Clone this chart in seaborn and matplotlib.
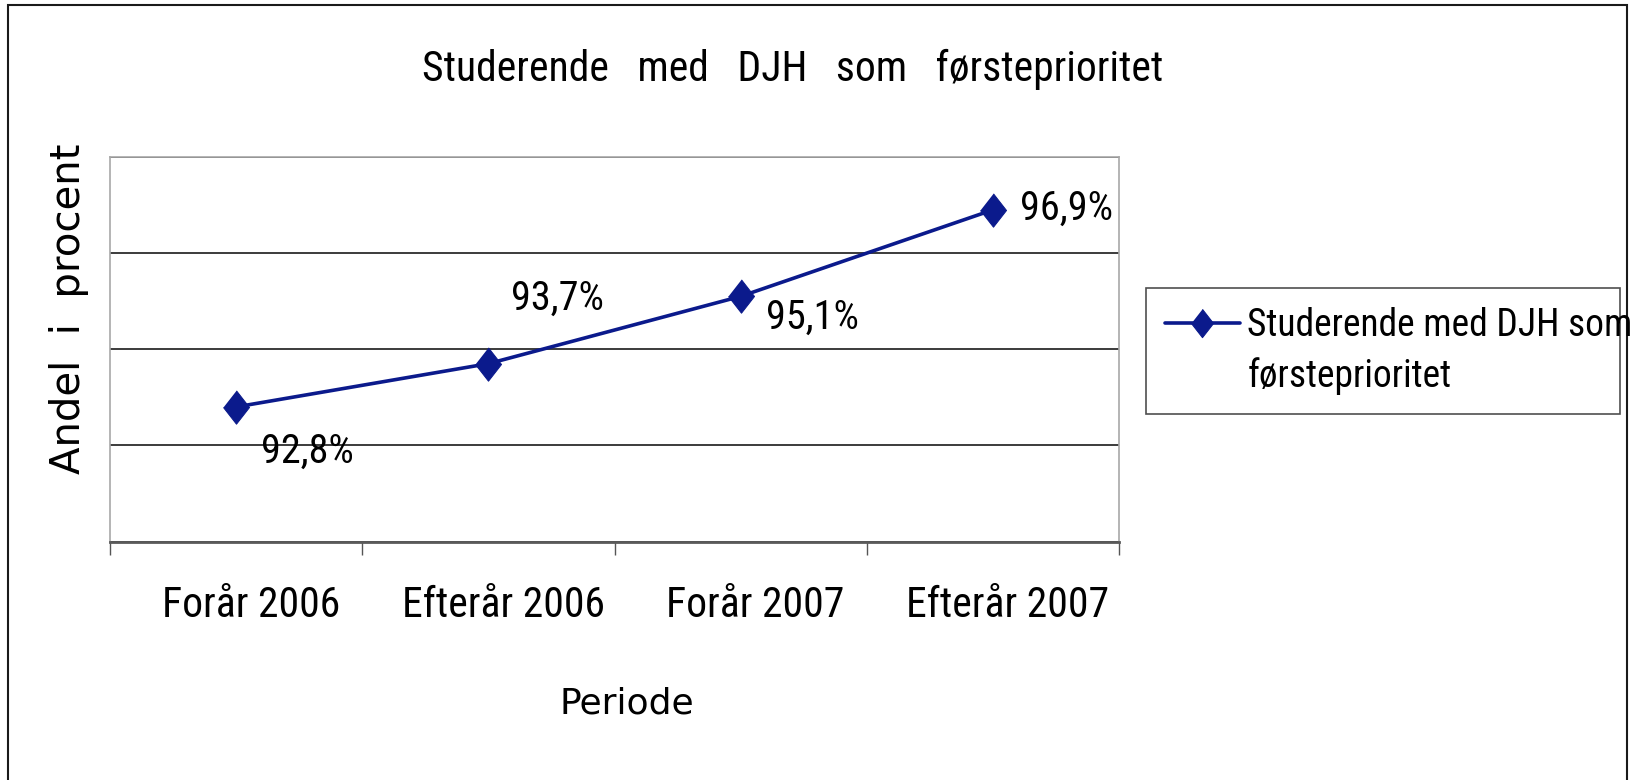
import numpy as np
import pandas as pd
import matplotlib
matplotlib.use("Agg")
import matplotlib.pyplot as plt
import matplotlib.transforms as mtrans
from matplotlib.patches import Rectangle
from matplotlib.lines import Line2D
import seaborn as sns

# data
perioder = ["Forår 2006", "Efterår 2006", "Forår 2007", "Efterår 2007"]
andel = [92.8, 93.7, 95.1, 96.9]
andel_tekst = ["92,8%", "93,7%", "95,1%", "96,9%"]
serie_navn = ["Studerende med DJH som", "førsteprioritet"]

# label offsets from each point (points)
label_offsets = [(51, -32), (50, 47), (52, -15), (53, 1)]

sns.set_style("white")
plt.rcParams['font.family'] = ['Roboto Condensed', 'Liberation Sans', 'DejaVu Sans']
plt.rcParams['text.color'] = 'black'

blue = "#0b1a8c"
W, H = 1637, 780

fig = plt.figure(figsize=(W / 100, H / 100), dpi=100)
ax = fig.add_axes([110 / W, 1 - 541.5 / H, 1009 / W, 384.5 / H])

df = pd.DataFrame({"pos": np.arange(len(perioder)), "andel": andel})
diamond = [(0, 1), (0.78, 0), (0, -1), (-0.78, 0)]
sns.lineplot(data=df, x="pos", y="andel", ax=ax, color=blue, lw=2.6,
             marker=diamond, markersize=24, markerfacecolor=blue,
             markeredgecolor=blue, legend=False)

ax.set_xlim(-0.5, len(perioder) - 0.5)
ax.set_ylim(90, 98)
ax.set_xlabel("")
ax.set_ylabel("")

# ticks between categories, labels at the centres
ax.set_xticks(np.arange(len(perioder) + 1) - 0.5)
ax.set_xticklabels([])
ax.set_xticks(np.arange(len(perioder)), minor=True)
ax.set_xticklabels(perioder, minor=True, fontsize=30)
ax.tick_params(axis="x", which="major", bottom=True, length=9.5, width=1,
               color="#555555", direction="out")
ax.tick_params(axis="x", which="minor", bottom=True, length=0, pad=31,
               labelcolor="black")
shift = mtrans.ScaledTranslation(0.15, 0, fig.dpi_scale_trans)
for lbl in ax.xaxis.get_minorticklabels():
    lbl.set_transform(lbl.get_transform() + shift)

ax.set_yticks([90, 92, 94, 96, 98])
ax.set_yticklabels([])
ax.tick_params(axis="y", length=0)
ax.grid(axis="y", color="#1a1a1a", lw=1.2)
ax.grid(axis="x", visible=False)

for side in ["top", "left", "right"]:
    ax.spines[side].set_color("#a8a8a8")
    ax.spines[side].set_linewidth(1.2)
ax.spines["bottom"].set_color("#5a5a5a")
ax.spines["bottom"].set_linewidth(2)

for i, (v, t) in enumerate(zip(andel, andel_tekst)):
    ax.annotate(t, (i, v), xytext=label_offsets[i], textcoords="offset points",
                ha="center", va="center", fontsize=29, color="black")

handles = [ax.lines[0], Line2D([], [], linestyle="none")]
leg = fig.legend(handles, serie_navn, loc="upper left",
                 bbox_to_anchor=(1146 / W, 1 - 408 / H, 474 / W, 120 / H),
                 mode="expand", frameon=True, fancybox=False, edgecolor="#222222",
                 fontsize=27, handlelength=2.0, handletextpad=0.2, borderpad=0.5,
                 labelspacing=0.35, borderaxespad=0, markerscale=0.85)
leg.get_frame().set_linewidth(1.2)
for t in leg.get_texts():
    t.set_color("black")

fig.text(793 / W, 1 - 81 / H, "Studerende   med   DJH   som   førsteprioritet",
         ha="center", va="baseline", fontsize=30)
fig.text(69 / W, 1 - 309 / H, "Andel  i  procent", rotation=90, ha="center",
         va="center", fontsize=29, family="DejaVu Sans")
fig.text(627 / W, 1 - 714 / H, "Periode", ha="center", va="baseline",
         fontsize=26, family="DejaVu Sans")

# outer chart border
fig.patches.append(Rectangle((8 / W, -0.02), 1619 / W, 1 - 5 / H + 0.02,
                             transform=fig.transFigure, fill=False,
                             edgecolor="#1a1a1a", lw=1.5))

fig.savefig("out.png", dpi=100)
